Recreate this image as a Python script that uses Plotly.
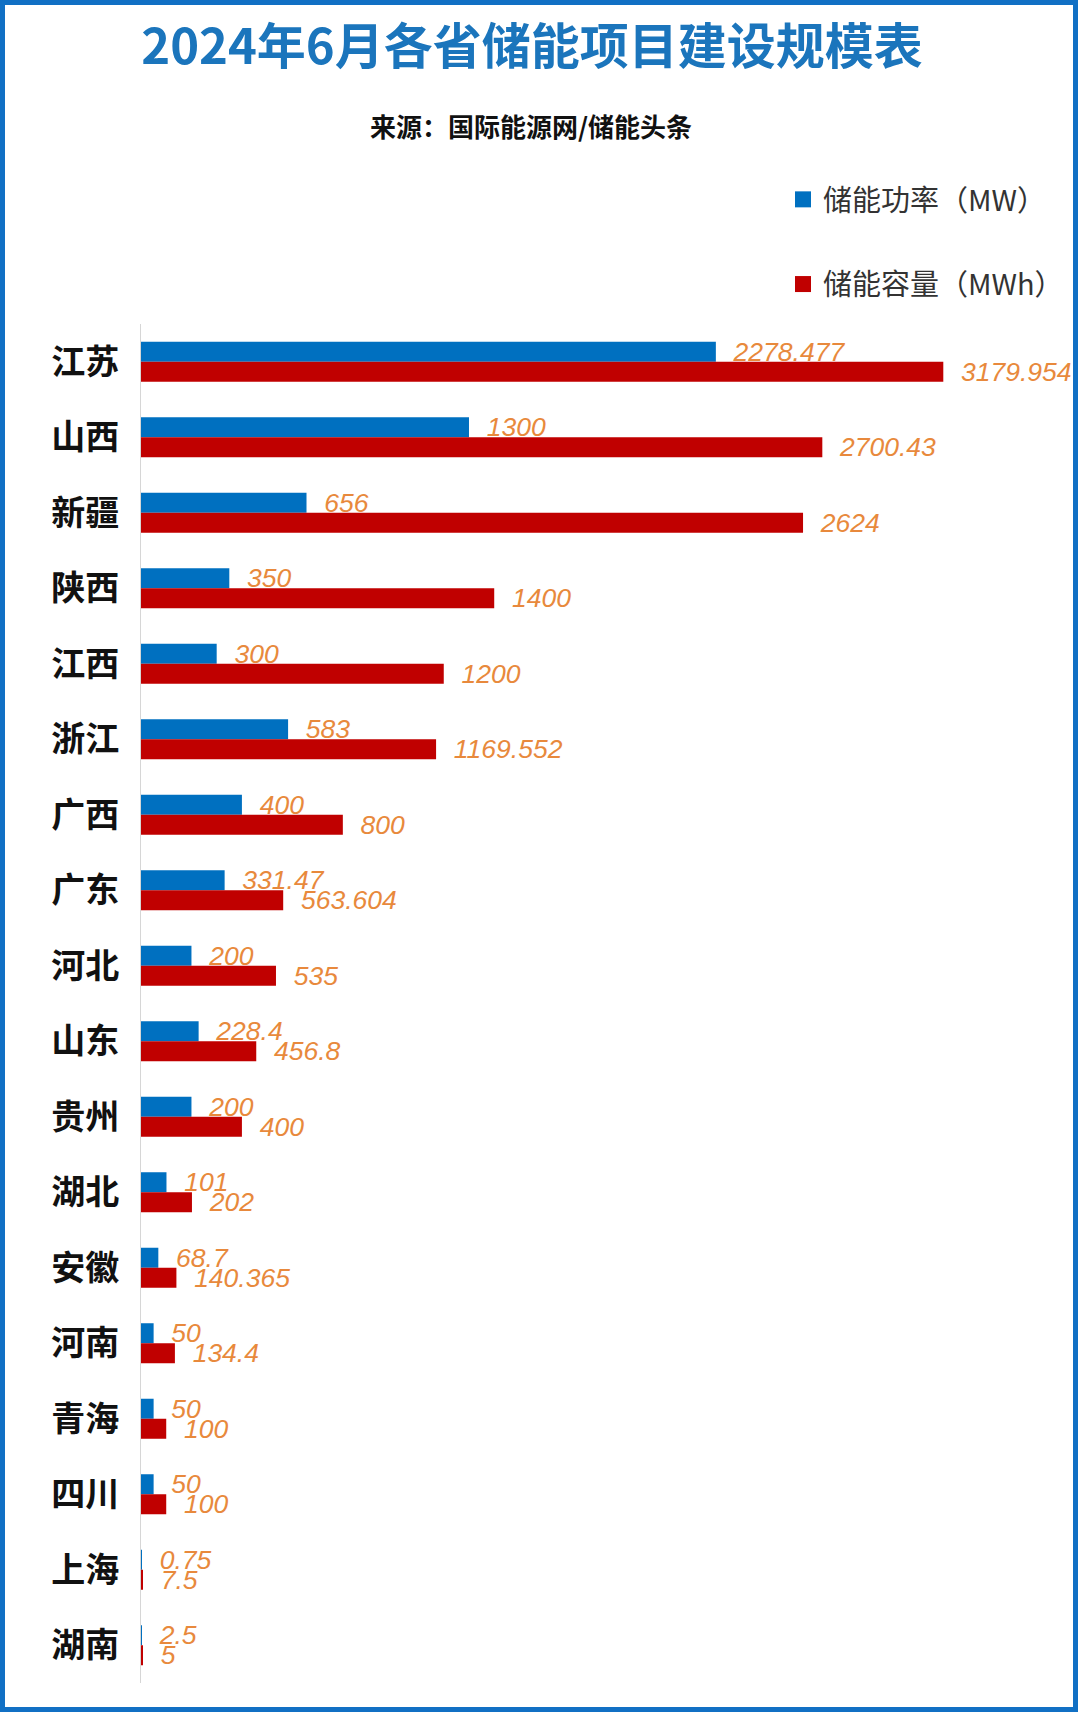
import plotly.graph_objects as go

provinces = ["江苏", "山西", "新疆", "陕西", "江西", "浙江", "广西", "广东", "河北",
             "山东", "贵州", "湖北", "安徽", "河南", "青海", "四川", "上海", "湖南"]
power_mw = [2278.477, 1300, 656, 350, 300, 583, 400, 331.47, 200,
            228.4, 200, 101, 68.7, 50, 50, 50, 0.75, 2.5]
capacity_mwh = [3179.954, 2700.43, 2624, 1400, 1200, 1169.552, 800, 563.604, 535,
                456.8, 400, 202, 140.365, 134.4, 100, 100, 7.5, 5]
series_names = ["储能功率（MW）", "储能容量（MWh）"]

W, H = 1080, 1714
L, R, T, B = 141, 12, 324, 31
PW, PH = W - L - R, H - T - B
PX_PER_UNIT = 0.2523

BLUE = "#0070C0"
RED = "#C00000"
LABEL = "#E8893C"
NB = "\u00a0\u00a0"

def fmt(v):
    return NB + (str(int(v)) if float(v).is_integer() else str(v))

label_font = dict(family="Liberation Sans, Arial", size=26.5, color=LABEL, style="italic")

fig = go.Figure()
for name, vals, col, grp in [(series_names[0], power_mw, BLUE, "a"),
                             (series_names[1], capacity_mwh, RED, "b")]:
    fig.add_trace(go.Bar(
        y=provinces, x=vals, name=name, orientation="h",
        marker=dict(color=col, line=dict(width=0)),
        text=[fmt(v) for v in vals], textposition="outside",
        textfont=label_font, constraintext="none", cliponaxis=False,
        legendgroup=grp, showlegend=False,
    ))
for name, col, grp in [(series_names[0], BLUE, "a"), (series_names[1], RED, "b")]:
    fig.add_trace(go.Scatter(
        x=[None], y=[None], mode="markers", name=name, legendgroup=grp,
        marker=dict(symbol="square", size=17, color=col), hoverinfo="skip",
    ))

def px_x(px):
    return (px - L) / PW

def px_y(py):
    return (H - B - py) / PH

fig.update_layout(
    width=W, height=H,
    margin=dict(l=L, r=R, t=T, b=B, autoexpand=False),
    paper_bgcolor="white", plot_bgcolor="white",
    barmode="group", bargap=0.47, bargroupgap=0,
    title=dict(
        text="2024年6月各省储能项目建设规模表",
        x=532 / W, xref="container", xanchor="center",
        y=1 - 47 / H, yref="container", yanchor="middle",
        font=dict(family="Noto Sans CJK SC", size=49, color="#1B75BC", weight="bold"),
    ),
    xaxis=dict(range=[0, PW / PX_PER_UNIT], showticklabels=False, showgrid=False,
               zeroline=False, showline=False, fixedrange=True),
    yaxis=dict(autorange="reversed", showgrid=False, zeroline=False,
               showline=True, linecolor="#D6D6D6", linewidth=1,
               ticks="", ticklabelstandoff=14,
               tickfont=dict(family="Noto Sans CJK SC", size=34, color="#111111", weight="bold")),
    legend=dict(
        x=783 / W, xref="container", xanchor="left",
        y=1 - 174 / H, yref="container", yanchor="top",
        traceorder="grouped", tracegroupgap=44,
        font=dict(family="Noto Sans CJK SC", size=29, color="#333333"),
        bgcolor="rgba(0,0,0,0)", itemclick=False,
    ),
    annotations=[dict(
        text="来源：国际能源网/储能头条", xref="paper", yref="paper",
        x=px_x(531), y=px_y(126), xanchor="center", yanchor="middle",
        showarrow=False,
        font=dict(family="Noto Sans CJK SC", size=26, color="#111111", weight="bold"),
    )],
    shapes=[dict(
        type="rect", xref="paper", yref="paper",
        x0=px_x(2.5), x1=px_x(1075.5), y0=px_y(2.5), y1=px_y(1709.5),
        line=dict(color="#1170C4", width=5), fillcolor="rgba(0,0,0,0)", layer="above",
    )],
)

fig.write_html("out.html")
